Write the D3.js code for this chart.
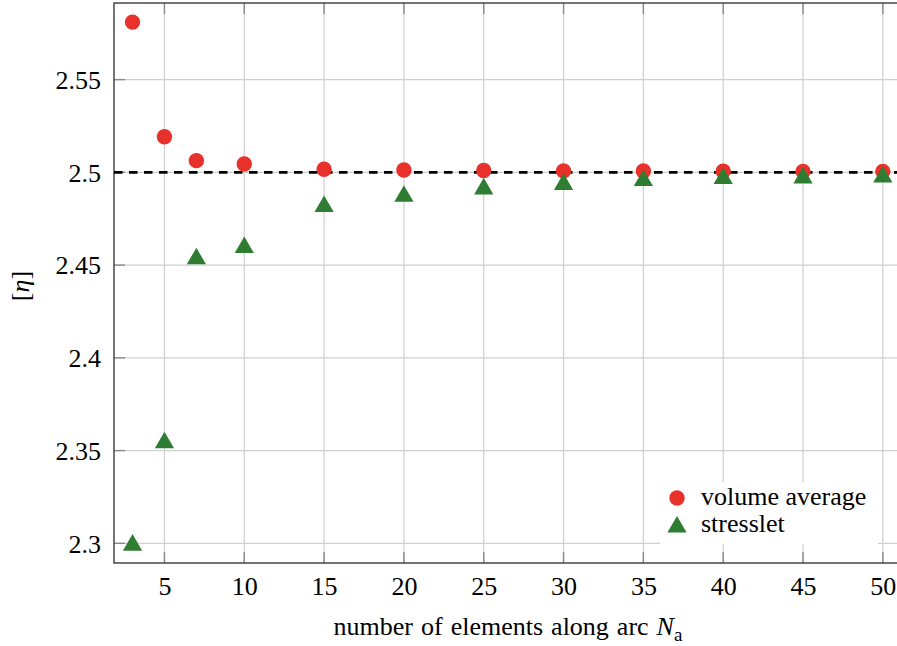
<!DOCTYPE html>
<html>
<head>
<meta charset="utf-8">
<script src="https://cdn.jsdelivr.net/npm/d3@7"></script>
<style>
  html, body { margin: 0; padding: 0; background: #fff; }
  svg { display: block; }
  svg text { font-family: "Liberation Serif", "Times New Roman", Times, "DejaVu Serif", serif !important; }
</style>
</head>
<body>
<svg id="chart" width="897" height="646"></svg>
<script>
// ---- data ----
const elements = [3, 5, 7, 10, 15, 20, 25, 30, 35, 40, 45, 50];
const volumeAverage = [2.581, 2.5192, 2.5063, 2.5045, 2.5017, 2.5013, 2.5010, 2.5008, 2.5007, 2.5006, 2.5005, 2.5005];
const stresslet = [2.299, 2.3542, 2.4534, 2.4595, 2.4816, 2.4871, 2.4911, 2.4935, 2.4956, 2.4967, 2.4970, 2.4975];
const referenceValue = 2.5;
const xTicks = [5, 10, 15, 20, 25, 30, 35, 40, 45, 50];
const yTicks = [2.3, 2.35, 2.4, 2.45, 2.5, 2.55];
const yTickLabels = ["2.3", "2.35", "2.4", "2.45", "2.5", "2.55"];
const seriesNames = ["volume average", "stresslet"];

// ---- layout ----
const svg = d3.select("#chart");
const L = 114, R = 902, T = 3, B = 563;
const x = d3.scaleLinear().domain([1.84, 51.2]).range([L, R]);
const y = d3.scaleLinear().domain([2.2894, 2.5913]).range([B, T]);
const red = "#e8312a", green = "#2f7d33";
const fs = 26;
const ink = "#000";

// grid
const grid = svg.append("g");
grid.selectAll("line.gx").data(xTicks).join("line")
  .attr("x1", d => x(d)).attr("x2", d => x(d)).attr("y1", T).attr("y2", B)
  .attr("stroke", "#cfcfcf").attr("stroke-width", 1.2);
grid.selectAll("line.gy").data(yTicks).join("line")
  .attr("y1", d => y(d)).attr("y2", d => y(d)).attr("x1", L).attr("x2", R)
  .attr("stroke", "#cfcfcf").attr("stroke-width", 1.2);

// inner ticks
const tk = 11;
const ticks = svg.append("g").attr("stroke", "#8a8a8a").attr("stroke-width", 1.4);
ticks.selectAll("line.bx").data(xTicks).join("line")
  .attr("x1", d => x(d)).attr("x2", d => x(d)).attr("y1", B).attr("y2", B - tk);
ticks.selectAll("line.tx").data(xTicks).join("line")
  .attr("x1", d => x(d)).attr("x2", d => x(d)).attr("y1", T).attr("y2", T + tk);
ticks.selectAll("line.ly").data(yTicks).join("line")
  .attr("y1", d => y(d)).attr("y2", d => y(d)).attr("x1", L).attr("x2", L + tk);

// axes via d3
const xAxis = d3.axisBottom(x).tickValues(xTicks).tickSize(0).tickPadding(14).tickFormat(d3.format("d"));
const yAxis = d3.axisLeft(y).tickValues(yTicks).tickSize(0).tickPadding(13).tickFormat((d, i) => yTickLabels[i]);
const gx = svg.append("g").attr("transform", `translate(0,${B})`).call(xAxis);
const gy = svg.append("g").attr("transform", `translate(${L},0)`).call(yAxis);
[gx, gy].forEach(g => {
  g.select(".domain").remove();
  g.attr("font-family", null);
  g.selectAll("text").attr("font-size", fs).attr("fill", ink);
});
gx.selectAll("text").attr("dy", "0.71em");
gy.selectAll("text").attr("dy", "0.34em");

// frame
svg.append("rect").attr("x", L).attr("y", T).attr("width", R - L).attr("height", B - T)
  .attr("fill", "none").attr("stroke", "#3a3a3a").attr("stroke-width", 1.4);

// reference dashed line
svg.append("line").attr("x1", L).attr("x2", R).attr("y1", y(referenceValue)).attr("y2", y(referenceValue))
  .attr("stroke", "#000").attr("stroke-width", 2.6).attr("stroke-dasharray", "8.5,6.5");

// markers
const triR = 11.1;
const triPath = r => `M0,${-r}L${0.866 * r},${0.5 * r}L${-0.866 * r},${0.5 * r}Z`;
const pts = elements.map((e, i) => ({ e, v: volumeAverage[i], s: stresslet[i] }));
svg.append("g").selectAll("circle").data(pts).join("circle")
  .attr("cx", d => x(d.e)).attr("cy", d => y(d.v)).attr("r", 7.7).attr("fill", red);
svg.append("g").selectAll("path").data(pts).join("path")
  .attr("transform", d => `translate(${x(d.e)},${y(d.s)})`).attr("d", triPath(triR)).attr("fill", green);

// legend
const lg = svg.append("g");
lg.append("rect").attr("x", 660).attr("y", 482).attr("width", 218).attr("height", 62).attr("fill", "#fff");
lg.append("circle").attr("cx", 677).attr("cy", 498).attr("r", 7.7).attr("fill", red);
lg.append("path").attr("transform", "translate(677,527)").attr("d", triPath(triR)).attr("fill", green);
lg.append("text").attr("x", 701).attr("y", 505).attr("font-size", fs).attr("fill", ink).text(seriesNames[0]);
lg.append("text").attr("x", 701).attr("y", 532).attr("font-size", fs).attr("fill", ink).text(seriesNames[1]);

// axis titles
const xl = svg.append("text").attr("x", 508).attr("y", 635).attr("text-anchor", "middle")
  .attr("font-size", fs).attr("fill", ink).attr("word-spacing", 1.5);
xl.append("tspan").text("number of elements along arc ");
xl.append("tspan").attr("font-style", "italic").text("N");
xl.append("tspan").attr("font-size", 19).attr("dy", 6).text("a");

const yl = svg.append("text").attr("transform", "translate(29,286) rotate(-90)").attr("text-anchor", "middle")
  .attr("font-size", fs).attr("fill", ink);
yl.append("tspan").text("[");
yl.append("tspan").attr("font-style", "italic").text("η");
yl.append("tspan").text("]");
</script>
</body>
</html>
